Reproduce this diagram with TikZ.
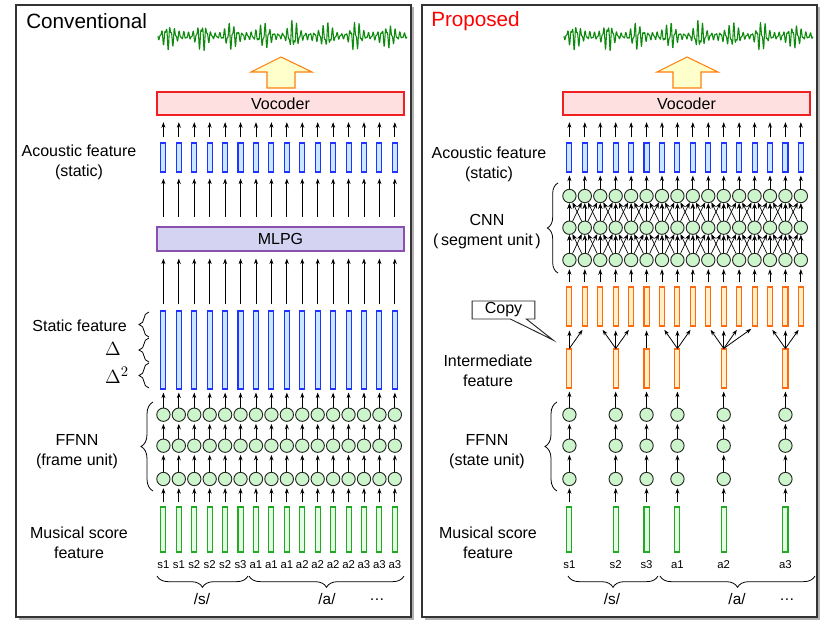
\documentclass[tikz,border=0pt]{standalone}
\usepackage{fontspec}
\setmainfont{Liberation Sans}
\usetikzlibrary{arrows.meta,decorations.pathreplacing,shapes.callouts}
\definecolor{wavegreen}{HTML}{0E8A0E}
\definecolor{acborder}{HTML}{2233FF}
\definecolor{acfill}{HTML}{C8E8FF}
\definecolor{grborder}{HTML}{22AA22}
\definecolor{grfill}{HTML}{E4FCE4}
\definecolor{orborder}{HTML}{FF6A10}
\definecolor{orfill}{HTML}{FFF0C8}
\definecolor{nfill}{HTML}{CCF5CC}
\definecolor{vocborder}{HTML}{F02020}
\definecolor{vocfill}{HTML}{FFE0E0}
\definecolor{mlpgborder}{HTML}{8A50B0}
\definecolor{mlpgfill}{HTML}{D4D4F2}
\definecolor{bigborder}{HTML}{FF8010}
\definecolor{bigfill}{HTML}{FFFFCC}
\tikzset{
  panelframe/.style={draw=black!80, line width=0.8pt, fill=white},
  panelshadow/.style={fill=black!30, draw=none},
  lab/.style={font=\fontsize{12}{15}\selectfont, align=center, inner sep=0pt},
  tinylab/.style={font=\fontsize{8.5}{10}\selectfont, inner sep=0pt},
  phon/.style={font=\fontsize{11.5}{13}\selectfont, inner sep=0pt},
  ttl/.style={font=\fontsize{15.5}{18}\selectfont, anchor=west, inner sep=0pt},
  bar/.style={rectangle, line width=0.8pt, minimum width=3.8pt, inner sep=0pt},
  acbar/.style={bar, draw=acborder, fill=acfill, minimum height=21.75pt},
  stbar/.style={bar, draw=acborder, fill=acfill, minimum height=58.5pt},
  grbar/.style={bar, draw=grborder, fill=grfill, minimum height=33.75pt},
  orbar/.style={bar, draw=orborder, fill=orfill, minimum height=29.25pt},
  neuron/.style={circle, draw=black!85, fill=nfill, line width=0.7pt, minimum size=10pt, inner sep=0pt},
  widebox/.style={rectangle, line width=0.8pt, minimum width=185.25pt, inner sep=0pt, font=\fontsize{12}{14}\selectfont},
  arr/.style={-{Stealth[length=4.2pt,width=3pt]}, line width=0.6pt},
  carr/.style={-{Stealth[length=4.5pt,width=3.6pt]}, line width=0.5pt},
  brc/.style={decorate, decoration={brace, amplitude=#1}, line width=0.6pt},
  brc/.default=7pt,
  wave/.style={draw=wavegreen, line width=0.8pt, line join=round},
}
\newcommand\paneltop[2]{%
\begin{scope}[shift={(#2,0)}]
  \fill[panelshadow] (18.5,7.5) rectangle (413.5,619.5);
  \draw[panelframe] (16,5) rectangle (411,617);
  \draw[wave, shift={(158,36)}] plot[domain=0:249, samples=650, variable=\t]
    (\t, {(4.5+13*pow(0.001+sin(5.8*\t+20)*sin(5.8*\t+20),2))*(0.65*sin(80*mod(\t,4.5))+0.35*sin(150*mod(\t,2.4)))*(0.85+0.15*sin(17*\t))});
  \draw[draw=bigborder, fill=bigfill, line width=0.8pt] (281,57) -- (312,72) -- (295,72) -- (295,88) -- (267,88) -- (267,72) -- (251,72) -- cycle;
  \node[widebox, draw=vocborder, fill=vocfill, minimum height=17.25pt] (#1-voc) at (280.5,103.5) {Vocoder};
  \foreach \k in {0,...,15} {
    \node[acbar] (#1-ac-\k) at ({163.4+15.43*\k},157.5) {};
    \draw[arr, shorten <=3.75pt, shorten >=5pt] (#1-ac-\k.north) -- (#1-ac-\k.north |- #1-voc.south);
  }
\end{scope}}
\begin{document}
\begin{tikzpicture}[x=0.75pt,y=-0.75pt]
\useasboundingbox (0,0) rectangle (830,623);
% ---------------- left panel ----------------
\paneltop{L}{0}
\node[ttl] (L-title) at (26,21) {Conventional};
\node[widebox, draw=mlpgborder, fill=mlpgfill, minimum height=18pt] (L-mlpg) at (280.5,239) {MLPG};
\foreach \k/\lb in {0/s1,1/s1,2/s2,3/s2,4/s2,5/s3,6/a1,7/a1,8/a1,9/a2,10/a2,11/a2,12/a2,13/a3,14/a3,15/a3} {
  \pgfmathsetmacro\xx{163.4+15.43*\k}
  \node[stbar] (L-st-\k) at (\xx,350) {};
  \node[neuron] (L-n1-\k) at (\xx,479) {};
  \node[neuron] (L-n2-\k) at (\xx,445.7) {};
  \node[neuron] (L-n3-\k) at (\xx,414.7) {};
  \node[grbar] (L-g-\k) at (\xx,529.5) {};
  \node[tinylab] (L-t-\k) at (\xx,565) {\lb};
  \draw[arr, shorten <=7.3pt, shorten >=4.5pt] (L-mlpg.north -| L-ac-\k) -- (L-ac-\k.south);
  \draw[arr, shorten <=4.5pt, shorten >=5.25pt] (L-st-\k.north) -- (L-st-\k.north |- L-mlpg.south);
  \draw[arr, shorten >=2.25pt] (L-n3-\k) -- (L-st-\k.south);
  \draw[arr, shorten >=1.5pt] (L-n2-\k) -- (L-n3-\k);
  \draw[arr, shorten >=1.5pt] (L-n1-\k) -- (L-n2-\k);
  \draw[arr, shorten <=3pt, shorten >=1.5pt] (L-g-\k.north) -- (L-n1-\k);
}
\node[lab] (L-acl) at (79,162) {Acoustic feature\\(static)};
\node[lab, anchor=east] (L-stl) at (127,326) {Static feature};
\node[font=\fontsize{15}{17}\selectfont, inner sep=0pt] (L-d1) at (113,349) {$\Delta$};
\node[font=\fontsize{15}{17}\selectfont, inner sep=0pt] (L-d2) at (117,375) {$\Delta^2$};
\node[lab] (L-ffl) at (77,452) {FFNN\\(frame unit)};
\node[lab] (L-msl) at (79,543) {Musical score\\feature};
\draw[brc=7.5pt] (149,337) -- (149,312);
\draw[brc=7.5pt] (149,362) -- (149,338);
\draw[brc=7.5pt] (149,388) -- (149,363);
\draw[brc=9pt] (153,491) -- (153,402);
\draw[brc=8.5pt] (248,576) -- (157,576);
\draw[brc=8.5pt] (404,576) -- (249,576);
\node[phon] (L-ps) at (202,599) {/s/};
\node[phon] (L-pa) at (327,599) {/a/};
\node[phon] (L-pd) at (377,600) {\dots};
% ---------------- right panel ----------------
\paneltop{R}{406}
\node[ttl, text=red] (R-title) at (431,21) {Proposed};
\foreach \k in {0,...,15} {
  \pgfmathsetmacro\xx{569.4+15.43*\k}
  \node[neuron] (R-c1-\k) at (\xx,260) {};
  \node[neuron] (R-c2-\k) at (\xx,227.7) {};
  \node[neuron] (R-c3-\k) at (\xx,196) {};
  \node[orbar] (R-cp-\k) at (\xx,306.5) {};
  \draw[arr, shorten >=2.25pt] (R-c3-\k) -- (R-ac-\k.south);
  \draw[arr, shorten <=3pt, shorten >=1.5pt] (R-cp-\k.north) -- (R-c1-\k);
}
\foreach \i in {0,...,15} {
  \foreach \d in {-1,0,1} {
    \pgfmathtruncatemacro\j{\i+\d}
    \ifnum\j>-1 \ifnum\j<16
      \draw[carr] (R-c1-\i) -- (R-c2-\j);
      \draw[carr] (R-c2-\i) -- (R-c3-\j);
    \fi\fi
  }
}
\foreach \k/\lb in {0/s1,3/s2,5/s3,7/a1,10/a2,14/a3} {
  \pgfmathsetmacro\xx{569.4+15.43*\k}
  \node[orbar] (R-im-\k) at (\xx,368.5) {};
  \node[neuron] (R-n1-\k) at (\xx,479) {};
  \node[neuron] (R-n2-\k) at (\xx,445.7) {};
  \node[neuron] (R-n3-\k) at (\xx,414.7) {};
  \node[grbar] (R-g-\k) at (\xx,529.5) {};
  \node[tinylab] (R-t-\k) at (\xx,565) {\lb};
  \draw[arr, shorten >=2.25pt] (R-n3-\k) -- (R-im-\k.south);
  \draw[arr, shorten >=1.5pt] (R-n2-\k) -- (R-n3-\k);
  \draw[arr, shorten >=1.5pt] (R-n1-\k) -- (R-n2-\k);
  \draw[arr, shorten <=3pt, shorten >=1.5pt] (R-g-\k.north) -- (R-n1-\k);
}
\foreach \a/\b in {0/0,0/1,3/2,3/3,3/4,5/5,7/6,7/7,7/8,10/9,10/10,10/11,10/12,14/13,14/14,14/15}
  \draw[arr, shorten >=3pt] (R-im-\a.north) -- (R-cp-\b.south);
\node[lab] (R-acl) at (489,164.5) {Acoustic feature\\(static)};
\node[lab] (R-cnl) at (487,232) {CNN\\(\,segment unit\,)};
\draw[brc=8pt] (558,273) -- (558,183);
\coordinate (R-copytip) at (553,340);
\node[rectangle callout, draw=black!85, fill=white, line width=0.7pt, callout absolute pointer={(R-copytip)}, callout pointer width=12pt, minimum width=47pt, minimum height=13.5pt, inner sep=0pt, font=\fontsize{12}{14}\selectfont] (R-copy) at (503.5,310) {Copy};
\node[lab] (R-iml) at (488,370.5) {Intermediate\\feature};
\node[lab] (R-ffl) at (487,452) {FFNN\\(state unit)};
\draw[brc=9pt] (557,491) -- (557,402);
\node[lab] (R-msl) at (488,543) {Musical score\\feature};
\draw[brc=8.5pt] (658,576) -- (568,576);
\draw[brc=8.5pt] (815,576) -- (660,576);
\node[phon] (R-ps) at (612,599) {/s/};
\node[phon] (R-pa) at (737,599) {/a/};
\node[phon] (R-pd) at (787,600) {\dots};
\end{tikzpicture}
\end{document}
